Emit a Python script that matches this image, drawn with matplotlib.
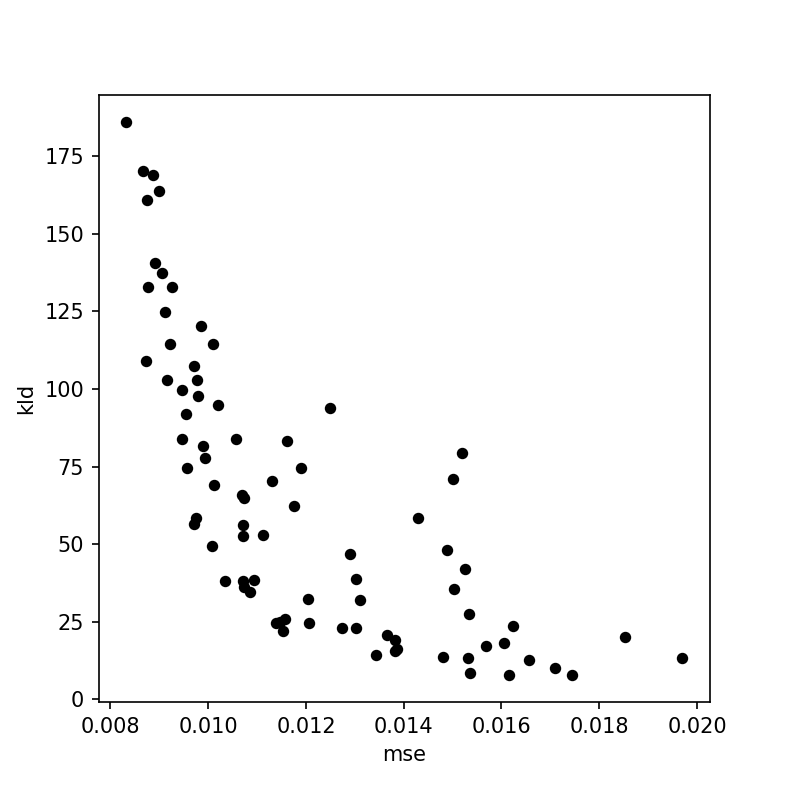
import matplotlib
matplotlib.use("Agg")
import matplotlib.pyplot as plt

mse = [0.008327, 0.008668, 0.008879, 0.008995, 0.008743, 0.00892, 0.009063, 0.008777,
       0.009254, 0.00911, 0.00986, 0.009212, 0.0101, 0.00873, 0.0097, 0.00916,
       0.009779, 0.009466, 0.0098, 0.01021, 0.009539, 0.009458, 0.01056, 0.01161,
       0.0099, 0.009928, 0.009568, 0.0113, 0.010126, 0.0107, 0.010725, 0.011755,
       0.009744, 0.009717, 0.010705, 0.010705, 0.011113, 0.010071, 0.010351, 0.010705,
       0.010937, 0.010733, 0.010862, 0.011394, 0.011577, 0.011522, 0.012483, 0.011898,
       0.015196, 0.015018, 0.01429, 0.012892, 0.014889, 0.015251, 0.013023, 0.015032,
       0.013111, 0.012048, 0.015333, 0.012068, 0.012743, 0.013015, 0.013649, 0.013812,
       0.013853, 0.01382, 0.013438, 0.014807, 0.015325, 0.015353, 0.016238, 0.01606,
       0.015693, 0.018534, 0.016566, 0.0197, 0.017091, 0.016163, 0.017445, 0.01147]
kld = [185.9, 170.3, 168.9, 163.9, 160.9, 140.5, 137.2, 132.8,
       132.8, 124.9, 120.3, 114.4, 114.4, 108.9, 107.3, 103.0,
       103.0, 99.6, 97.7, 94.7, 92.0, 83.8, 83.9, 83.4,
       81.5, 77.7, 74.5, 70.2, 69.2, 66.0, 64.9, 62.4,
       58.4, 56.6, 56.2, 52.8, 52.9, 49.5, 38.3, 38.3,
       38.4, 36.2, 34.6, 24.5, 25.9, 22.0, 94.0, 74.4,
       79.3, 70.9, 58.4, 46.8, 48.2, 42.0, 38.9, 35.5,
       32.1, 32.4, 27.6, 24.7, 23.1, 23.1, 20.9, 19.0,
       16.2, 15.5, 14.3, 13.8, 13.3, 8.6, 23.5, 18.3,
       17.1, 20.2, 12.8, 13.4, 10.0, 8.0, 8.0, 25.0]

fig, ax = plt.subplots(figsize=(789 / 150, 789 / 150), dpi=150)
ax.scatter(mse, kld, s=20, c="black")
ax.set_xlabel("mse")
ax.set_ylabel("kld")
fig.savefig("out.png", dpi=150)
